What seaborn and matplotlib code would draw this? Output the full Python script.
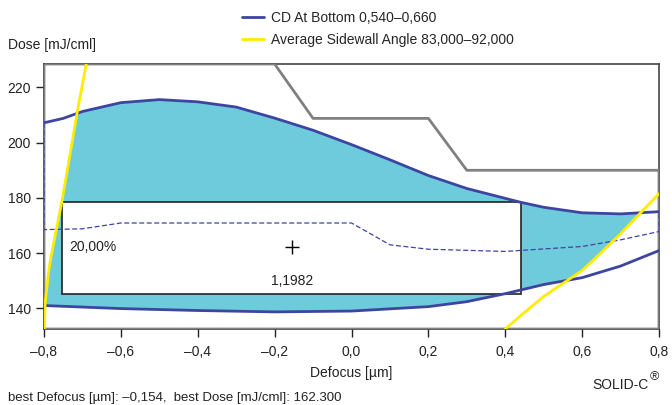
import numpy as np
import pandas as pd
import seaborn as sns
import matplotlib.pyplot as plt
from matplotlib.ticker import FuncFormatter

# CD at bottom window (upper / lower bound), dose in mJ/cml vs defocus in um
cd_upper_defocus = [-0.8, -0.75, -0.7, -0.6, -0.5, -0.4, -0.3, -0.2, -0.1, 0.0, 0.1, 0.2, 0.3, 0.44, 0.5, 0.6, 0.7, 0.8]
cd_upper_dose = [207.2, 208.8, 211.3, 214.5, 215.6, 214.8, 212.9, 208.9, 204.5, 199.3, 193.8, 188.1, 183.4, 178.4, 176.6, 174.6, 174.2, 175.0]
cd_lower_defocus = [-0.8, -0.6, -0.4, -0.2, 0.0, 0.2, 0.3, 0.4, 0.5, 0.6, 0.7, 0.8]
cd_lower_dose = [141.0, 139.9, 139.2, 138.7, 139.0, 140.6, 142.4, 145.3, 148.6, 151.1, 155.3, 160.9]

# sidewall angle limits
swa_left_defocus = [-0.799, -0.797, -0.789, -0.784, -0.754, -0.727, -0.713, -0.69]
swa_left_dose = [132.5, 142.0, 152.0, 157.0, 178.3, 200.0, 211.5, 228.5]
swa_right_defocus = [0.40, 0.45, 0.50, 0.55, 0.60, 0.65, 0.70, 0.75, 0.80]
swa_right_dose = [132.5, 138.5, 144.3, 149.0, 153.7, 160.2, 167.0, 174.3, 181.5]

# dashed lower edge of the window
dash_defocus = [-0.8, -0.8, -0.7, -0.6, 0.0, 0.1, 0.2, 0.4, 0.6, 0.7, 0.8, 0.8]
dash_dose = [207.2, 168.5, 168.8, 170.9, 170.9, 163.0, 161.4, 160.6, 162.4, 164.8, 167.8, 175.0]

# grey limit outline
grey_defocus = [-0.8, -0.8, -0.7, -0.2, -0.1, 0.2, 0.3, 0.8, 0.8, 0.4, -0.8]
grey_dose = [132.5, 228.5, 228.5, 228.5, 208.8, 208.8, 190.0, 190.0, 132.5, 132.5, 132.5]

# process window box
box_defocus = [-0.752, 0.44]
box_dose = [145.1, 178.4]
best_defocus = -0.154
best_dose = 162.3
latitude_text = "20,00%"
dof_text = "1,1982"

xticks = [-0.8, -0.6, -0.4, -0.2, 0.0, 0.2, 0.4, 0.6, 0.8]
yticks = [140, 160, 180, 200, 220]

blue = "#3d45a0"
yellow = "#ffec00"
cyan = "#6ecbdc"
grey = "#808080"
ink = "#222222"

sns.set_style("ticks")
plt.rcParams["font.family"] = ["Liberation Sans", "DejaVu Sans"]

fig = plt.figure(figsize=(6.72, 4.05), dpi=100)
ax = fig.add_axes([44 / 672, 1 - 329 / 405, 615 / 672, 265 / 405])

xs = np.linspace(-0.8, 0.8, 1601)
top = np.interp(xs, cd_upper_defocus, cd_upper_dose)
top = np.minimum(top, np.interp(xs, swa_left_defocus, swa_left_dose, left=132.5, right=1000))
bot = np.interp(xs, cd_lower_defocus, cd_lower_dose)
bot = np.maximum(bot, np.interp(xs, swa_right_defocus, swa_right_dose, left=0, right=1000))
ax.fill_between(xs, bot, top, where=top > bot, color=cyan, lw=0, zorder=1)

ax.add_patch(plt.Rectangle((box_defocus[0], box_dose[0]), box_defocus[1] - box_defocus[0],
                           box_dose[1] - box_dose[0], facecolor="white", edgecolor=ink, lw=1.2, zorder=2))

grey_df = pd.DataFrame({"x": grey_defocus, "y": grey_dose})
sns.lineplot(data=grey_df, x="x", y="y", sort=False, estimator=None, color=grey, lw=2, ax=ax, zorder=3)

dash_df = pd.DataFrame({"x": dash_defocus, "y": dash_dose})
sns.lineplot(data=dash_df, x="x", y="y", sort=False, estimator=None, color=blue, lw=0.9,
             linestyle=(0, (4, 2)), ax=ax, zorder=4)

up_df = pd.DataFrame({"x": cd_upper_defocus, "y": cd_upper_dose})
lo_df = pd.DataFrame({"x": cd_lower_defocus, "y": cd_lower_dose})
sns.lineplot(data=up_df, x="x", y="y", sort=False, estimator=None, color=blue, lw=2, ax=ax, zorder=5,
             label="CD At Bottom 0,540\u20130,660")
sns.lineplot(data=lo_df, x="x", y="y", sort=False, estimator=None, color=blue, lw=2, ax=ax, zorder=5)

yl_df = pd.DataFrame({"x": swa_left_defocus, "y": swa_left_dose})
yr_df = pd.DataFrame({"x": swa_right_defocus, "y": swa_right_dose})
sns.lineplot(data=yl_df, x="x", y="y", sort=False, estimator=None, color=yellow, lw=2, ax=ax, zorder=6,
             label="Average Sidewall Angle 83,000\u201392,000")
sns.lineplot(data=yr_df, x="x", y="y", sort=False, estimator=None, color=yellow, lw=2, ax=ax, zorder=6)

ax.plot([best_defocus], [best_dose], marker="+", color="black", ms=10, mew=1, zorder=7)
ax.text(-0.735, best_dose, latitude_text, fontsize=10, va="center", ha="left", color=ink, zorder=7)
ax.text(best_defocus, 150.0, dof_text, fontsize=10, va="center", ha="center", color=ink, zorder=7)

ax.set_xlim(-0.8, 0.8)
ax.set_ylim(132.5, 228.5)
ax.set_xticks(xticks)
ax.set_yticks(yticks)
ax.xaxis.set_major_formatter(FuncFormatter(lambda v, p: f"{v:.1f}".replace(".", ",").replace("-", "\u2013")))
ax.tick_params(labelsize=10, length=6, width=1, colors=ink)
ax.tick_params(axis="x", pad=5.5)
for s in ax.spines.values():
    s.set_color("#444444")
    s.set_linewidth(1.2)
ax.set_xlabel("Defocus [\u00b5m]", fontsize=10, color=ink, labelpad=5)
ax.set_ylabel("")

ax.get_legend().remove()
h, l = ax.get_legend_handles_labels()
fig.legend(h, l, loc="upper left", bbox_to_anchor=(236 / 672, 1 - 5 / 405), frameon=False,
           fontsize=10, handlelength=1.6, handletextpad=0.5, labelspacing=0.63, borderaxespad=0)

fig.text(8 / 672, 1 - 45 / 405, "Dose [mJ/cml]", fontsize=10, va="center", color=ink)
fig.text(592 / 672, 1 - 385 / 405, "SOLID-C", fontsize=10, va="center", color=ink)
fig.text(650 / 672, 1 - 377 / 405, "\u00ae", fontsize=9, va="center", color=ink)
fig.text(8 / 672, 1 - 398 / 405, "best Defocus [\u00b5m]: \u20130,154,  best Dose [mJ/cml]: 162.300",
         fontsize=9.5, va="center", color=ink)

fig.savefig("out.png", dpi=100)
